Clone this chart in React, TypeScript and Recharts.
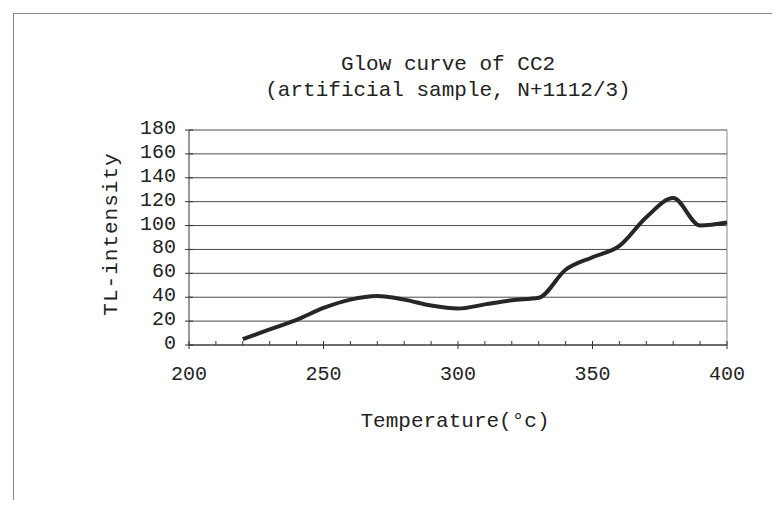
import React from "react";
import {
  LineChart,
  Line,
  XAxis,
  YAxis,
  CartesianGrid,
  ReferenceLine,
} from "recharts";

// glow curve readings (temperature in °C, TL intensity)
const temperatures = [
  220, 230, 240, 250, 260, 270, 280, 290, 300, 310, 320, 330, 340, 350, 360,
  370, 380, 390, 400,
];
const intensity = [
  5, 13, 21, 31, 38, 41, 38, 33, 30.5, 34, 37.5, 39.5, 63, 73.5, 83, 107, 123,
  100, 102.5,
];

const xTicks = [
  200, 210, 220, 230, 240, 250, 260, 270, 280, 290, 300, 310, 320, 330, 340,
  350, 360, 370, 380, 390, 400,
];
const xLabels = [200, 250, 300, 350, 400];
const yTicks = [0, 20, 40, 60, 80, 100, 120, 140, 160, 180];

const titleLines = ["Glow curve of CC2", "(artificial sample, N+1112/3)"];
const xTitle = "Temperature(°c)";
const yTitle = "TL-intensity";

const data = temperatures.map((t, i) => ({ temp: t, tl: intensity[i] }));

const FONT = '"Liberation Mono", "Courier New", monospace';
const INK = "#222222";

const XTick = ({ x, y, payload }: any) => {
  const major = xLabels.includes(payload.value);
  return (
    <g>
      <line
        x1={x}
        x2={x}
        y1={y - 4}
        y2={major ? y + 4 : y}
        stroke="#333"
        strokeWidth={1}
      />
      {major && (
        <text
          x={x}
          y={y + 35}
          textAnchor="middle"
          fontFamily={FONT}
          fontSize={20}
          fill={INK}
        >
          {payload.value}
        </text>
      )}
    </g>
  );
};

const YTick = ({ x, y, payload }: any) => (
  <g>
    <line x1={x - 4} x2={x + 4} y1={y} y2={y} stroke="#333" strokeWidth={1} />
    <text
      x={x - 13}
      y={y + 4}
      textAnchor="end"
      fontFamily={FONT}
      fontSize={20}
      fill={INK}
    >
      {payload.value}
    </text>
  </g>
);

export default function App() {
  return (
    <div
      style={{
        position: "relative",
        width: 780,
        height: 508,
        margin: -8,
        background: "#fff",
        overflow: "hidden",
      }}
    >
      <div
        style={{
          position: "absolute",
          left: 13,
          top: 13,
          width: 764,
          height: 520,
          border: "1px solid #888",
        }}
      />
      <LineChart
        width={780}
        height={508}
        data={data}
        margin={{ top: 130, right: 53, left: 110, bottom: 123 }}
        style={{ position: "absolute", left: 0, top: 0 }}
      >
        <CartesianGrid
          horizontal
          vertical={false}
          stroke="#4a4a4a"
          strokeWidth={1}
        />
        <XAxis
          dataKey="temp"
          type="number"
          domain={[200, 400]}
          ticks={xTicks}
          interval={0}
          tick={<XTick />}
          tickLine={false}
          tickSize={0}
          tickMargin={0}
          height={40}
          axisLine={{ stroke: "#333" }}
        />
        <YAxis
          type="number"
          domain={[0, 180]}
          ticks={yTicks}
          interval={0}
          tick={<YTick />}
          tickLine={false}
          tickSize={0}
          tickMargin={0}
          width={79}
          axisLine={{ stroke: "#333" }}
        />
        <ReferenceLine x={400} stroke="#888" strokeWidth={1} />
        <Line
          type="monotone"
          dataKey="tl"
          stroke="#262626"
          strokeWidth={4}
          dot={false}
          isAnimationActive={false}
        />
      </LineChart>
      <svg
        width={780}
        height={508}
        style={{ position: "absolute", left: 0, top: 0, pointerEvents: "none" }}
      >
        <text
          x={448}
          y={70}
          textAnchor="middle"
          fontFamily={FONT}
          fontSize={21}
          fill={INK}
        >
          {titleLines[0]}
        </text>
        <text
          x={448}
          y={96}
          textAnchor="middle"
          fontFamily={FONT}
          fontSize={21}
          fill={INK}
        >
          {titleLines[1]}
        </text>
        <text
          x={455}
          y={427}
          textAnchor="middle"
          fontFamily={FONT}
          fontSize={21}
          fill={INK}
        >
          {xTitle}
        </text>
        <text
          x={117}
          y={234}
          transform="rotate(-90 117 234)"
          textAnchor="middle"
          fontFamily={FONT}
          fontSize={21}
          letterSpacing={1}
          fill={INK}
        >
          {yTitle}
        </text>
      </svg>
    </div>
  );
}
